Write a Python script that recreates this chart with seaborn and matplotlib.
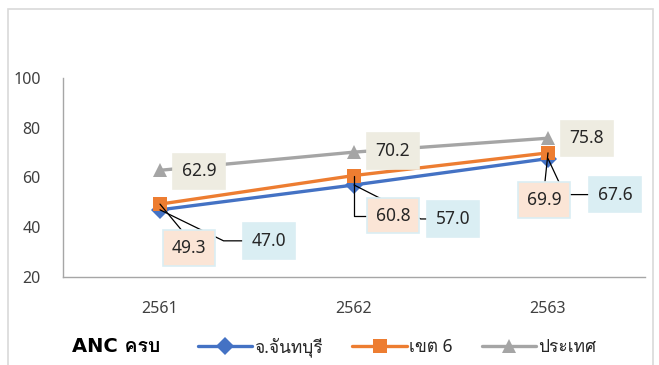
import pandas as pd
import seaborn as sns
import matplotlib.pyplot as plt
from matplotlib import font_manager
from matplotlib.ft2font import FT2Font
from matplotlib.patches import Rectangle

years = ['2561', '2562', '2563']
series = ['จ.จันทบุรี', 'เขต 6', 'ประเทศ']
chanthaburi = [47.0, 57.0, 67.6]
khet6 = [49.3, 60.8, 69.9]
prathet = [62.9, 70.2, 75.8]
chart_label = 'ANC ครบ'

colors = {'จ.จันทบุรี': '#4472C4', 'เขต 6': '#ED7D31', 'ประเทศ': '#A5A5A5'}
markers = {'จ.จันทบุรี': 'D', 'เขต 6': 's', 'ประเทศ': '^'}
box_bg = {'จ.จันทบุรี': '#DAEEF3', 'เขต 6': '#FBE5D6', 'ประเทศ': '#EEECE1'}

# find a font that has thai glyphs
thai_font = None
for f in font_manager.fontManager.ttflist:
    try:
        if ord('ค') in FT2Font(f.fname).get_charmap():
            thai_font = f.name
            break
    except Exception:
        pass

sns.set_style('white')
fams = ['Noto Sans', 'DejaVu Sans']
bold_fams = ['DejaVu Sans']
if thai_font:
    fams.insert(1, thai_font)
    bold_fams.append(thai_font)
plt.rcParams['font.family'] = fams

df = pd.DataFrame({
    'year': years * 3,
    'value': chanthaburi + khet6 + prathet,
    'series': [s for s in series for _ in years],
})

fig = plt.figure(figsize=(6.59, 3.65), dpi=100)
ax = fig.add_axes([63 / 659, 1 - 277 / 365, 582 / 659, 199 / 365])

sns.lineplot(data=df, x='year', y='value', hue='series', style='series',
             hue_order=series, style_order=series, palette=colors,
             markers=markers, dashes=False, markersize=9.5, markeredgewidth=0,
             linewidth=2.4, ax=ax, legend=True)

ax.set_xlim(-0.5, 2.5)
ax.set_ylim(20, 100)
ax.set_yticks([20, 40, 60, 80, 100])
ax.set_xlabel('')
ax.set_ylabel('')
ax.tick_params(length=0, labelsize=11.5, labelcolor='#404040')
ax.tick_params(axis='y', pad=16)
ax.tick_params(axis='x', pad=17)
for s in ['top', 'right']:
    ax.spines[s].set_visible(False)
for s in ['left', 'bottom']:
    ax.spines[s].set_color('#A6A6A6')
    ax.spines[s].set_linewidth(1)

# label offsets in pixels and leader line settings
offsets = {
    'จ.จันทบุรี': [(109, -31), (99, -34), (67, -36)],
    'เขต 6': [(29, -44), (39, -40), (-4, -47)],
    'ประเทศ': [(39, -1), (39, 1), (39, 0)],
}
leaders = {
    'จ.จันทบุรี': [dict(relpos=(0, 0.5), connectionstyle='angle,angleA=0,angleB=-26,rad=0'),
                   dict(relpos=(0, 0.5), connectionstyle='angle,angleA=0,angleB=-27,rad=0'),
                   dict(relpos=(0, 0.5), connectionstyle='angle,angleA=0,angleB=-65,rad=0')],
    'เขต 6': [dict(relpos=(0.5, 1)),
              dict(relpos=(0, 0.5), connectionstyle='angle,angleA=0,angleB=90,rad=0'),
              dict(relpos=(0.5, 1))],
    'ประเทศ': [None, None, None],
}
values = {'จ.จันทบุรี': chanthaburi, 'เขต 6': khet6, 'ประเทศ': prathet}

for name in series:
    for i, v in enumerate(values[name]):
        edge = '#DAEEF3' if name == 'เขต 6' else box_bg[name]
        ld = leaders[name][i]
        arrow = None
        if ld is not None:
            arrow = dict(arrowstyle='-', color='black', lw=0.9, shrinkA=0, shrinkB=0, **ld)
        ax.annotate(f'{v:.1f}', xy=(i, v), xytext=offsets[name][i],
                    textcoords='offset pixels', ha='center', va='center',
                    fontsize=12.5, color='#262626', zorder=5,
                    bbox=dict(boxstyle='square,pad=0.5', fc=box_bg[name], ec=edge, lw=1.2),
                    arrowprops=arrow)

handles, labels = ax.get_legend_handles_labels()
ax.legend(handles, labels, loc='center left', bbox_to_anchor=(182 / 659, 1 - 347 / 365),
          bbox_transform=fig.transFigure, ncol=3, frameon=False, fontsize=12.5,
          handlelength=3.15, handletextpad=0.1, columnspacing=1.7, labelcolor='#262626')

fig.text(72 / 659, 1 - 347 / 365, chart_label, fontsize=14, fontweight='bold',
         family=bold_fams, ha='left', va='center', color='black')

fig.patches.append(Rectangle((8 / 659, -0.1), 645 / 659, 1 - 9 / 365 + 0.1,
                             transform=fig.transFigure, fill=False,
                             ec='#D9D9D9', lw=1.2))

fig.savefig('out.png', dpi=100)
